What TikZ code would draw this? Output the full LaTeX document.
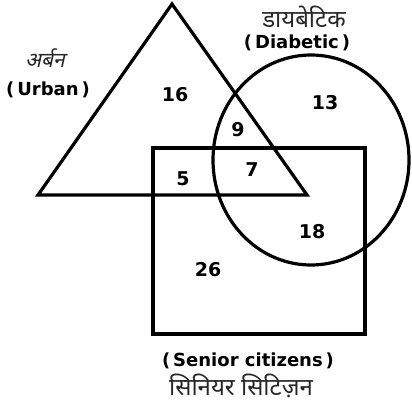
\documentclass[tikz,border=0pt]{standalone}
\usepackage{fontspec}
\setmainfont{DejaVu Sans}
\newfontfamily\hindi[Script=Devanagari]{Noto Sans}
\newfontfamily\hindislant[Script=Devanagari,FakeSlant=0.22]{Noto Sans}
\newfontfamily\labfont{DejaVu Sans}
\begin{document}
\begin{tikzpicture}[x=1pt,y=-1pt,
  shapeline/.style={draw=black,line width=3.2pt,line join=miter},
  eng/.style={font=\labfont\bfseries\fontsize{18}{20}\selectfont,inner sep=0pt},
  hin/.style={font=\hindi\fontsize{24}{26}\selectfont,inner sep=0pt,text=black!85},
  num/.style={font=\labfont\bfseries\fontsize{19}{21}\selectfont,inner sep=0pt}]
\useasboundingbox (0,0) rectangle (412,404);
% shapes
\coordinate (apex) at (172,4);
\coordinate (bl) at (38,195);
\coordinate (br) at (307,195);
\draw[shapeline] (apex) -- (br) -- (bl) -- cycle;
\coordinate (r1) at (153,148);
\coordinate (r2) at (365,334);
\draw[shapeline] (r1) rectangle (r2);
\coordinate (cc) at (311,160);
\draw[shapeline] (cc) ellipse [x radius=98, y radius=105];
% labels
\node[font=\hindislant\fontsize{21}{23}\selectfont,inner sep=0pt,text=black!85] (uh) at (45,58) {अर्बन};
\node[eng] (ue) at (48,90) {(\,Urban\,)};
\node[hin] (dh) at (304,17) {डायबेटिक};
\node[eng] (de) at (297,43) {(\,Diabetic\,)};
\node[eng] (se) at (248,361) {(\,Senior citizens\,)};
\node[hin] (sh) at (241,386) {सिनियर सिटिज़न};
% numbers
\node[num] (n16) at (175,95) {16};
\node[num] (n13) at (325,103) {13};
\node[num] (n9) at (238,130) {9};
\node[num] (n7) at (252,170) {7};
\node[num] (n5) at (183,179) {5};
\node[num] (n18) at (312,232) {18};
\node[num] (n26) at (208,270) {26};
\end{tikzpicture}
\end{document}
